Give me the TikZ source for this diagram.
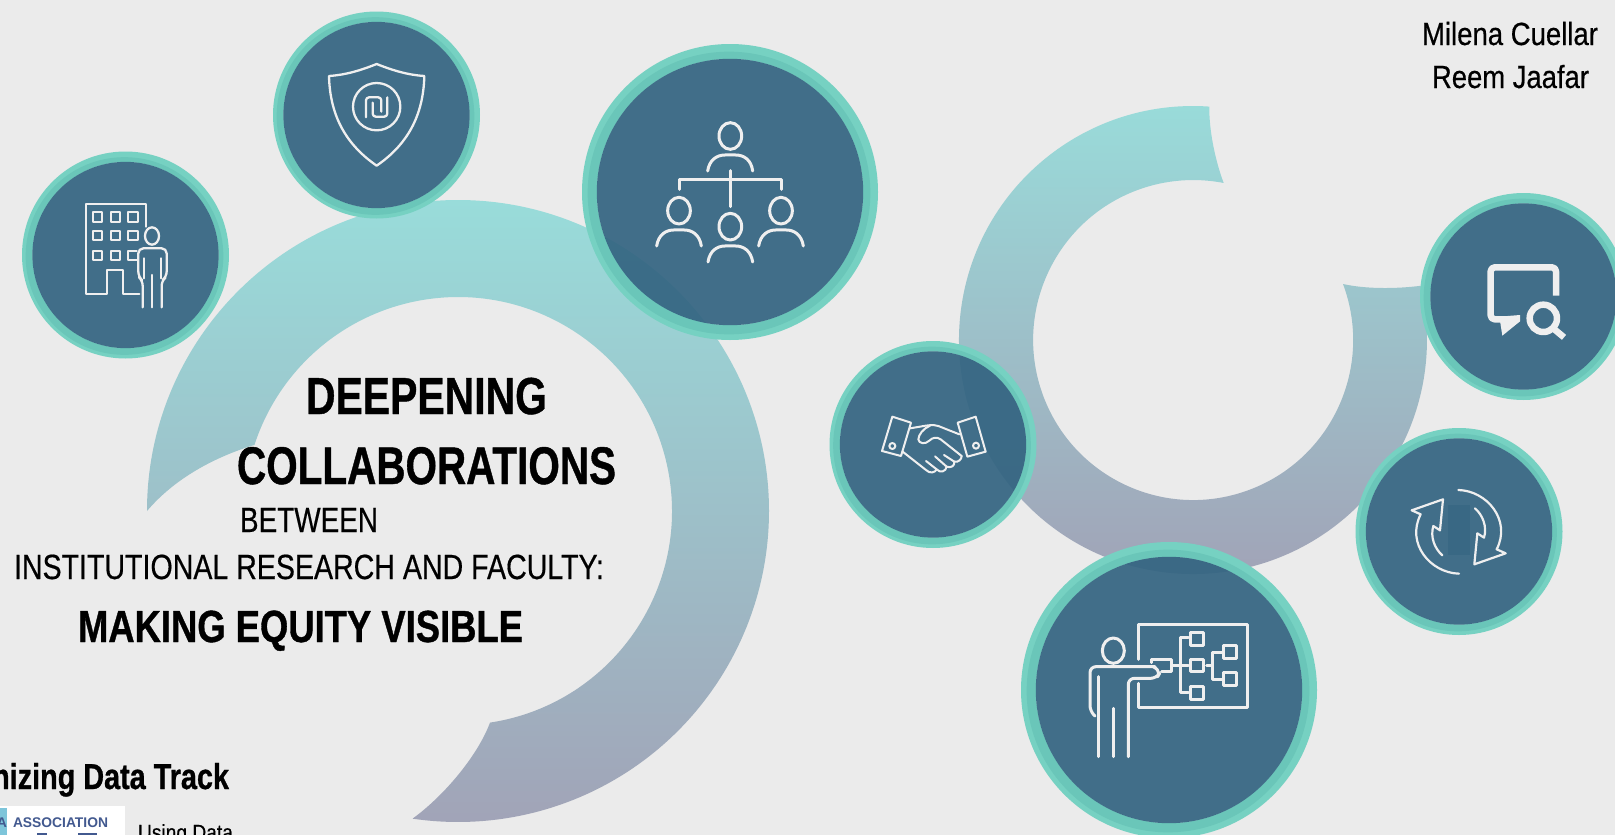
\documentclass[tikz,border=0pt]{standalone}
\usepackage{fontspec}
\usepackage{graphicx}
\setmainfont{Liberation Sans}
\newfontfamily\regf[FakeBold=0.5]{Liberation Sans}
\newfontfamily\heavyf[FakeBold=0.9]{Liberation Sans Bold}
\definecolor{bgc}{HTML}{EBEBEB}
\definecolor{rimA}{HTML}{76D1C2}
\definecolor{rimB}{HTML}{6AC6B9}
\definecolor{coreC}{RGB}{51,100,129}
\definecolor{ringTop}{HTML}{99DCDA}
\definecolor{ringBot}{HTML}{A1A3B7}
\definecolor{iconC}{HTML}{EFEFEF}
\definecolor{navy}{HTML}{42598F}
\definecolor{logoT}{HTML}{7EC5DA}
\tikzset{
  corefill/.style={circle,inner sep=0pt,fill=coreC,fill opacity=.92,draw=none},
  txt/.style={inner sep=0pt,outer sep=0pt,text=black},
  zoomat/.style 2 args={shift={(#1pt,-#2pt)},x=.33333pt,y=-.33333pt},
  icon/.style={draw=iconC,line width=#1,line join=round,line cap=round},
  icon/.default=2.3pt,
  ringfill/.style={top color=ringTop,bottom color=ringBot,draw=none}
}
\newcommand{\fitw}[3]{\resizebox{#1pt}{\height}{\fontsize{#2}{#2}\selectfont #3}}
\newcommand{\badge}[4]{%
  \fill[rimA,even odd rule] (#2,#3) circle[radius=#4] (#2,#3) circle[radius=.9*#4];
  \fill[rimB,even odd rule] (#2-1,#3+1) circle[radius=.955*#4] (#2,#3) circle[radius=.9*#4];
  \node[corefill,minimum size=1.8*#4 pt] (#1) at (#2,#3) {};
}
\begin{document}
\begin{tikzpicture}[x=1pt,y=-1pt]
\useasboundingbox (0,0) rectangle (1615,835);
\clip (0,0) rectangle (1615,835);
\fill[bgc] (0,0) rectangle (1615,835);

% left ring
\shade[ringfill] (147,511) arc[start angle=180,end angle=458.4,radius=311]
  .. controls (445,795) and (478,755) .. (490,722.6)
  arc[start angle=441.4,end angle=198,radius=214]
  .. controls (215,457) and (175,478) .. cycle;
% right ring
\shade[ringfill] (1209.3,106.6) arc[start angle=274,end angle=-13.4,radius=234]
  .. controls (1395,289) and (1365,289) .. (1343,284)
  arc[start angle=-20.5,end angle=281,radius=160]
  .. controls (1215,160) and (1209,130) .. cycle;

\badge{building}{125.5}{255}{103.5}
\badge{shield}{376.5}{115}{103.5}
\badge{org}{730}{192}{148}
\badge{search}{1523.5}{296.5}{103.5}
\badge{refresh}{1459}{531.5}{103.5}
\badge{presenter}{1169}{690}{148}
\badge{handshake}{933}{444.5}{103.5}

% building icon
\begin{scope}[zoomat={0}{0}]
\draw[icon] (437,680)--(437,611)--(258,611)--(258,883)--(320,883)--(320,810)--(368,810)--(368,883)--(418,883);
\foreach \yy in {637,692,752}{
  \draw[icon] (278,\yy) rectangle (307,\yy+29);
  \draw[icon] (332,\yy) rectangle (360,\yy+29);
}
\draw[icon] (385,637) rectangle (415,666);
\draw[icon] (385,692) rectangle (415,721);
\draw[icon] (410,752)--(385,752)--(385,781)--(410,781);
\draw[icon] (456,708) ellipse[x radius=21,y radius=26];
\draw[icon,rounded corners=5pt] (428,922)--(428,842)--(415,830)--(415,745)--(500,745)--(500,830)--(485,842)--(485,922);
\draw[icon] (432,775)--(432,835);
\draw[icon] (482,775)--(482,835);
\draw[icon] (457,825)--(457,922);
\end{scope}

% shield icon
\begin{scope}[zoomat={0}{0}]
\draw[icon] (1130,192) .. controls (1180,212) and (1225,225) .. (1273,228)
  .. controls (1270,350) and (1220,435) .. (1130,497)
  .. controls (1040,435) and (990,350) .. (987,228)
  .. controls (1035,225) and (1080,212) .. cycle;
\draw[icon] (1130,320) circle[radius=71];
\draw[icon,rounded corners=3pt] (1098,352)--(1098,292)--(1144,292)--(1144,335);
\draw[icon,rounded corners=3pt] (1162,292)--(1162,350)--(1118,350)--(1118,308);
\end{scope}

% org icon
\begin{scope}[zoomat={570}{30}]
\tikzset{every path/.style={icon=3pt}}
\draw (481,318) ellipse[x radius=34,y radius=40];
\draw (413,423) .. controls (418,390) and (440,375) .. (465,375) -- (497,375) .. controls (522,375) and (544,390) .. (548,423);
\draw (481,422)--(481,530);
\draw (327,478)--(327,448)--(635,448)--(635,478);
\foreach \cx/\cy in {327/542,481/590,633/542}{
  \draw (\cx,\cy) ellipse[x radius=34,y radius=40];
  \draw (\cx-67,\cy+106) .. controls (\cx-62,\cy+73) and (\cx-40,\cy+58) .. (\cx-16,\cy+58) -- (\cx+16,\cy+58) .. controls (\cx+40,\cy+58) and (\cx+62,\cy+73) .. (\cx+67,\cy+106);
}
\end{scope}

% search icon
\begin{scope}[zoomat={1340}{180}]
\draw[icon=6.5pt,line cap=butt,rounded corners=4pt] (648,347)--(648,262)--(452,262)--(452,418)--(500,418);
\fill[iconC] (478,410)--(487,467)--(540,424)--(540,405)--cycle;
\draw[icon=6.5pt] (610,415) circle[radius=41];
\draw[icon=6.5pt,line cap=butt] (642,447)--(672,472);
\end{scope}

% refresh icon
\begin{scope}[zoomat={1340}{180}]
\fill[coreC,opacity=.55] (323,975) rectangle (390,1125);
\draw[icon=2.2pt] (355,930) .. controls (440,932) and (515,1020) .. (470,1108)
  -- (497,1120) -- (403,1153) -- (412,1060) -- (432,1073)
  .. controls (442,1040) and (428,1005) .. (405,985);
\draw[icon=2.2pt] (357,1181) .. controls (272,1179) and (197,1091) .. (242,1003)
  -- (215,991) -- (309,958) -- (300,1051) -- (280,1038)
  .. controls (270,1071) and (284,1106) .. (307,1126);
\end{scope}

% presenter icon
\begin{scope}[zoomat={1010}{530}]
\tikzset{every path/.style={icon=3pt}}
\draw (385,388)--(385,282)--(713,282)--(713,533)--(385,533)--(385,460);
\draw (310,362) ellipse[x radius=33,y radius=38];
\draw[rounded corners=6pt] (255,558)--(240,545)--(240,410)--(435,410);
\draw (264,440)--(264,680);
\draw (310,535)--(310,680);
\draw[rounded corners=6pt] (355,680)--(355,445)--(440,445)--(452,425)--(430,410);
\draw (425,398)--(425,388)--(485,388)--(485,425)--(455,425);
\draw (490,407)--(535,407);
\draw (535,322)--(510,322)--(510,488)--(535,488);
\draw (542,308) rectangle (580,345);
\draw (542,388) rectangle (580,425);
\draw (542,470) rectangle (580,508);
\draw (590,407)--(607,407);
\draw (635,368)--(607,368)--(607,448)--(635,448);
\draw (640,347) rectangle (678,385);
\draw (640,427) rectangle (678,465);
\end{scope}

% handshake icon
\begin{scope}[zoomat={820}{330}]
\tikzset{every path/.style={icon=2pt}}
\draw (217,260)--(273,278)--(243,378)--(186,363)--cycle;
\draw (413,278)--(467,260)--(497,365)--(442,380)--cycle;
\draw (217,348) circle[radius=9];
\draw (468,347) circle[radius=9];
\draw (270,295)--(300,290) .. controls (320,286) and (340,283) .. (355,288) -- (418,313);
\draw (330,287) .. controls (310,295) and (295,315) .. (295,328) .. controls (296,340) and (315,345) .. (328,332) .. controls (338,322) and (350,320) .. (362,328) -- (425,378);
\draw (248,365)--(318,420) .. controls (330,432) and (345,428) .. (350,418)
  .. controls (360,430) and (378,425) .. (380,410)
  .. controls (392,415) and (405,408) .. (403,395)
  .. controls (415,398) and (425,388) .. (425,378);
\draw (318,393)--(350,418);
\draw (345,379)--(380,410);
\draw (372,375)--(403,395);
\end{scope}

% texts
\node[txt,anchor=base west] (t1) at (306,414) {\fitw{241}{52}{\heavyf DEEPENING}};
\node[txt,anchor=base west] (t2) at (237,484) {\fitw{379}{53}{\heavyf COLLABORATIONS}};
\node[txt,anchor=base west] (t3) at (240,532) {\fitw{138}{35}{\regf BETWEEN}};
\node[txt,anchor=base west] (t4) at (14,579) {\fitw{590}{35}{\regf INSTITUTIONAL RESEARCH AND FACULTY:}};
\node[txt,anchor=base west] (t5) at (78,642) {\fitw{445}{45}{\heavyf MAKING EQUITY VISIBLE}};
\node[txt,anchor=base west] (a1) at (1422,45) {\fitw{176}{32}{\regf Milena Cuellar}};
\node[txt,anchor=base west] (a2) at (1432,88) {\fitw{157}{32}{\regf Reem Jaafar}};
\node[txt,anchor=base east] (tr) at (229,789) {\scalebox{.8}[1]{\fontsize{36}{36}\selectfont\heavyf nizing Data Track}};
% logo
\fill[white] (0,806) rectangle (125,840);
\fill[logoT] (0,808) rectangle (7,840);
\node[txt,anchor=base west,text=navy] (lg) at (13,827) {\fitw{95}{14}{\bfseries ASSOCIATION}};
\node[txt,anchor=base east,text=navy] (lga) at (7,827) {\fontsize{14}{14}\selectfont\bfseries A};
\fill[navy] (37,833) rectangle (47,840);
\fill[navy] (78,833) rectangle (97,840);
\node[txt,anchor=base west] (ud) at (138,840) {\fitw{95}{22}{\regf Using Data}};
\end{tikzpicture}
\end{document}
